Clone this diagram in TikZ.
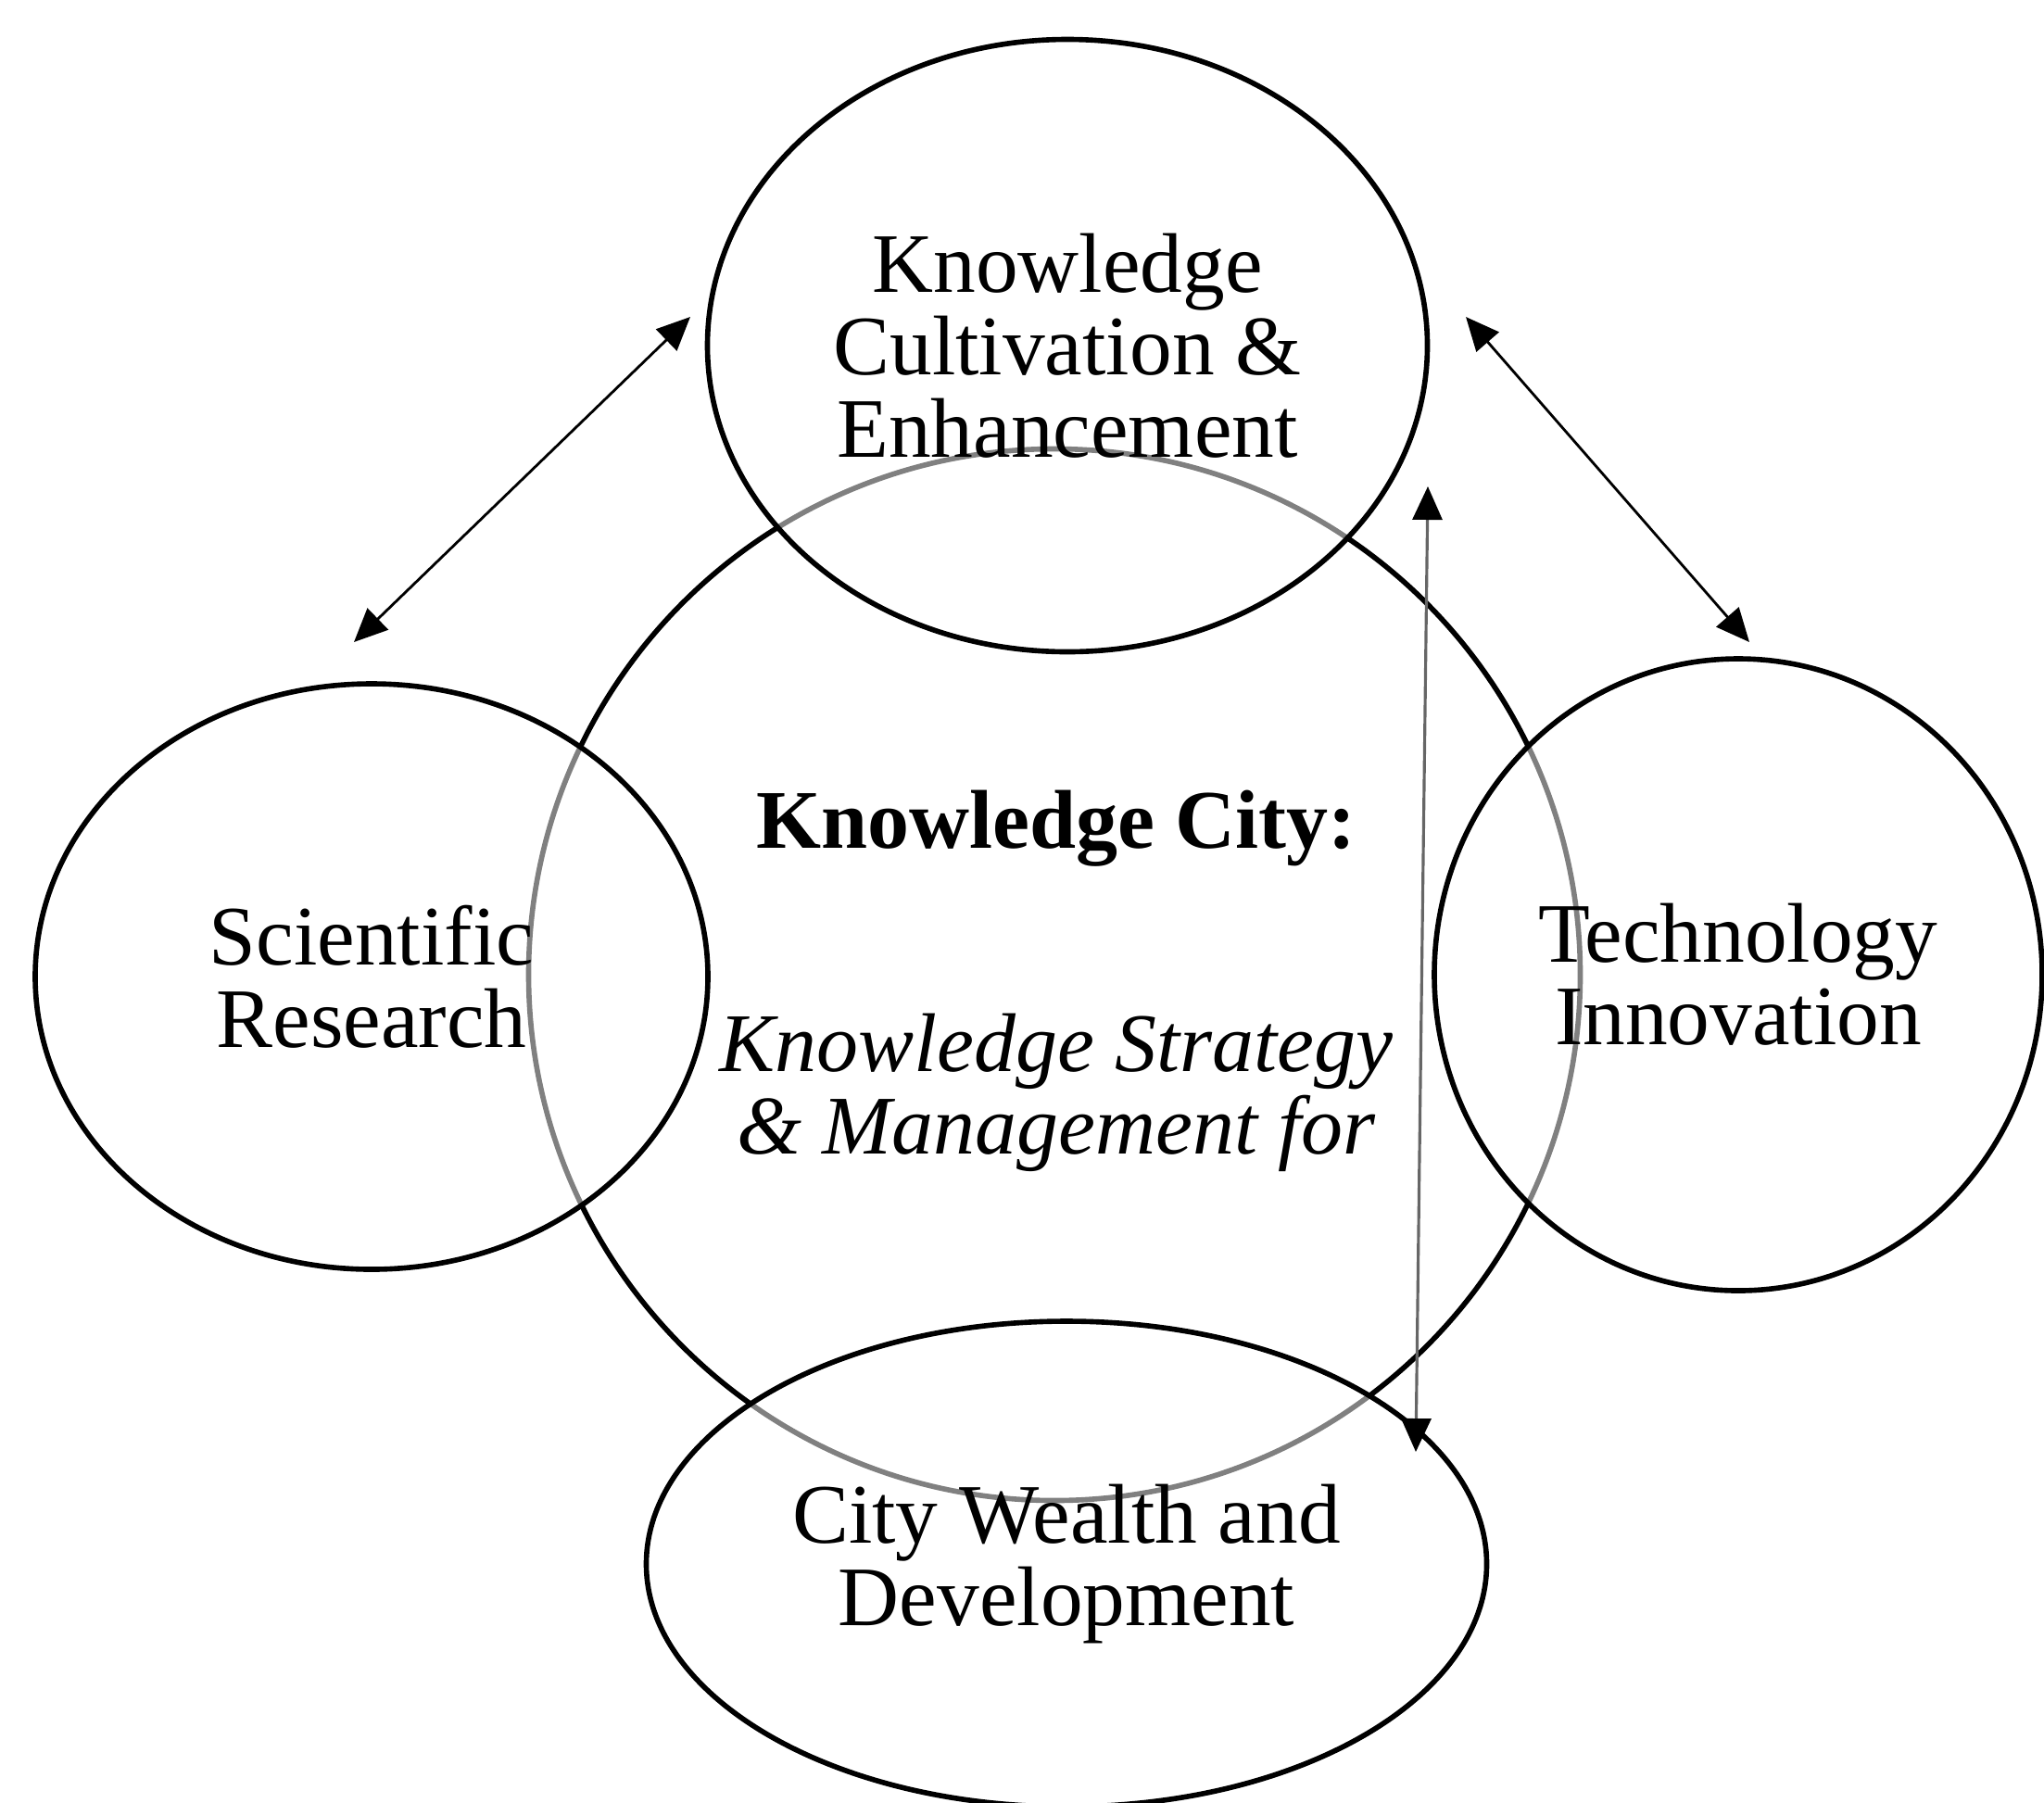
\documentclass[tikz,border=0pt]{standalone}
\usepackage{fontspec}
\setmainfont{Liberation Serif}
\usetikzlibrary{positioning}
\usetikzlibrary{shapes.geometric}
\usetikzlibrary{arrows.meta}

\begin{document}
\begin{tikzpicture}[
    core/.style={circle, draw, line width=1.6pt, minimum size=11.35cm, inner sep=0pt},
    field/.style={ellipse, draw, line width=1.6pt, fill=white, fill opacity=0.5, text opacity=1,
        inner sep=0pt, align=center, font=\fontsize{26}{25.3}\selectfont},
    coretext/.style={align=center, inner sep=0pt, anchor=base, font=\fontsize{25.6}{25.3}\selectfont},
    link/.style={line width=0.8pt, {Triangle[length=3.6mm, width=3.2mm]}-{Triangle[length=3.6mm, width=3.2mm]}},
    uplink/.style={line width=0.9pt, draw=black!60,
        {Triangle[length=3.6mm, width=3.2mm, color=black]}-{Triangle[length=3.6mm, width=3.2mm, color=black]}}
]
\useasboundingbox (0,0) rectangle (22.06,-19.45);

% Central circle and its text
\node[core] (hub) at (11.38, -10.52) {};
\node[coretext, font=\fontsize{25.6}{25.3}\selectfont\bfseries] (kctitle) at (11.40, -9.15) {Knowledge City:};
\node[coretext, font=\fontsize{25.6}{25.3}\selectfont\itshape] (kcstrat) at (11.40, -12.45) {Knowledge Strategy\\ \& Management for};

% Surrounding fields
\node[field, minimum width=7.77cm, minimum height=6.61cm] (kce) at (11.52, -3.73) {Knowledge\\ Cultivation \&\\ Enhancement};
\node[field, minimum width=7.26cm, minimum height=6.32cm] (sr) at (4.01, -10.54) {Scientific\\ Research};
\node[field, minimum width=6.56cm, minimum height=6.82cm] (ti) at (18.76, -10.52) {Technology\\ Innovation};
\node[field, minimum width=9.07cm, minimum height=5.24cm] (cwd) at (11.51, -16.88) {City Wealth and\\ Development};

% Arrow ends
\coordinate (sr-end) at (3.82, -6.93);
\coordinate (kce-west) at (7.45, -3.42);
\coordinate (kce-east) at (15.82, -3.42);
\coordinate (ti-end) at (18.88, -6.93);
\coordinate (up-end) at (15.41, -5.25);
\coordinate (down-end) at (15.28, -15.67);

% Arrows
\draw[link] (sr-end) -- (kce-west);
\draw[link] (kce-east) -- (ti-end);
\draw[uplink] (down-end) -- (up-end);

\end{tikzpicture}
\end{document}
